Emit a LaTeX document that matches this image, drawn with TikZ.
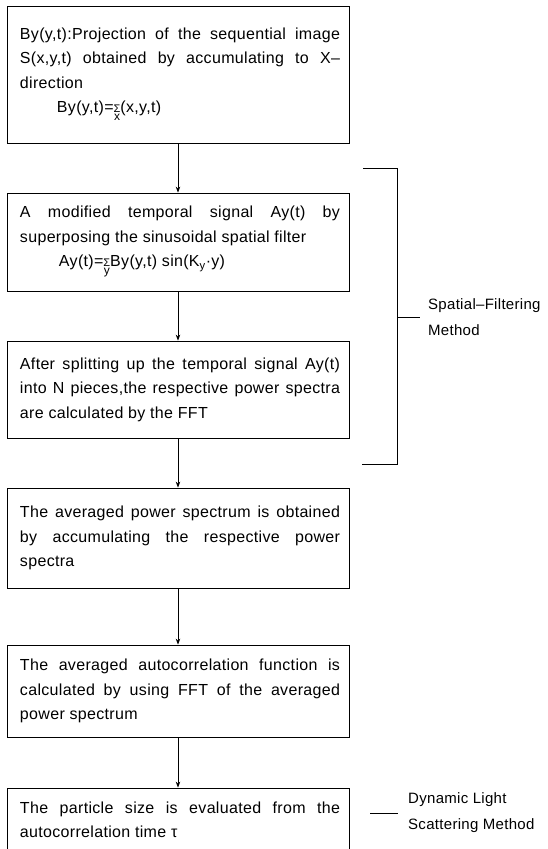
\documentclass[tikz,border=0pt]{standalone}
\usepackage{fontspec}
\setmainfont{Liberation Sans}[LetterSpace=2]
\usetikzlibrary{arrows.meta,positioning}
\newcommand{\sumunder}[1]{\ensuremath{\mathop{\hbox{\fontsize{11}{11}\selectfont Σ}}\limits_{\hbox{\fontsize{12}{12}\selectfont #1}}}}

\begin{document}
\begin{tikzpicture}[x=1pt,y=-1pt,
    stepbox/.style={draw,line width=0.8pt,text width=324pt,inner xsep=9pt,inner ysep=0pt,
        align=justify,font=\fontsize{16}{24.5}\selectfont,
        execute at begin node={\leftskip=4pt}},
    sidelabel/.style={align=left,inner sep=2pt,font=\fontsize{15}{26}\selectfont},
    >={Stealth[length=6pt,width=4.5pt]}]
    \useasboundingbox (0,0) rectangle (548,849);
    \clip (0,0) rectangle (548,849);
    % steps
    \node[stepbox,minimum height=137pt] (proj) at (178,74.5)
        {By(y,t):Projection of the sequential image\linebreak
         S(x,y,t) obtained by accumulating to X–\linebreak
         direction\\
         \hspace*{37pt}By(y,t)=\sumunder{x}(x,y,t)};
    \node[stepbox,minimum height=98pt] (filt) at (178,242)
        {A modified temporal signal Ay(t) by\linebreak
         superposing the sinusoidal spatial filter\\
         \hspace*{39pt}Ay(t)=\sumunder{y}By(y,t) sin(K\textsubscript{y}·y)};
    \node[stepbox,minimum height=97pt] (fft) at (178,389.5)
        {After splitting up the temporal signal Ay(t)\linebreak
         into N pieces,the respective power spectra\linebreak
         are calculated by the FFT};
    \node[stepbox,minimum height=100pt] (avg) at (178,538)
        {The averaged power spectrum is obtained\linebreak
         by accumulating the respective power\linebreak
         spectra};
    \node[stepbox,minimum height=92pt] (acf) at (178,691)
        {The averaged autocorrelation function is\linebreak
         calculated by using FFT of the averaged\linebreak
         power spectrum};
    \node[stepbox,minimum height=64pt] (size) at (178,820)
        {The particle size is evaluated from the\linebreak
         autocorrelation time τ};
    % arrows
    \draw[->,line width=0.8pt] (proj) -- (filt);
    \draw[->,line width=0.8pt] (filt) -- (fft);
    \draw[->,line width=0.8pt] (fft) -- (avg);
    \draw[->,line width=0.8pt] (avg) -- (acf);
    \draw[->,line width=0.8pt] (acf) -- (size);
    % bracket
    \coordinate (sftop) at (363,168);
    \coordinate (sfbot) at (362,464);
    \coordinate (sfmid) at (397,317);
    \coordinate (sftick) at (420,317);
    \draw[line width=0.8pt] (sftop) -- (sftop -| sfmid) -- (sfbot -| sfmid) -- (sfbot);
    \draw[line width=0.8pt] (sfmid) -- (sftick);
    \coordinate (dlsa) at (370,813);
    \coordinate (dlsb) at (398,813);
    \draw[line width=0.8pt] (dlsa) -- (dlsb);
    % text
    \node[sidelabel,right=6pt of sftick] (sflabel) {Spatial–Filtering\\Method};
    \node[sidelabel,right=8pt of dlsb] (dlslabel) {Dynamic Light\\Scattering Method};
\end{tikzpicture}
\end{document}
